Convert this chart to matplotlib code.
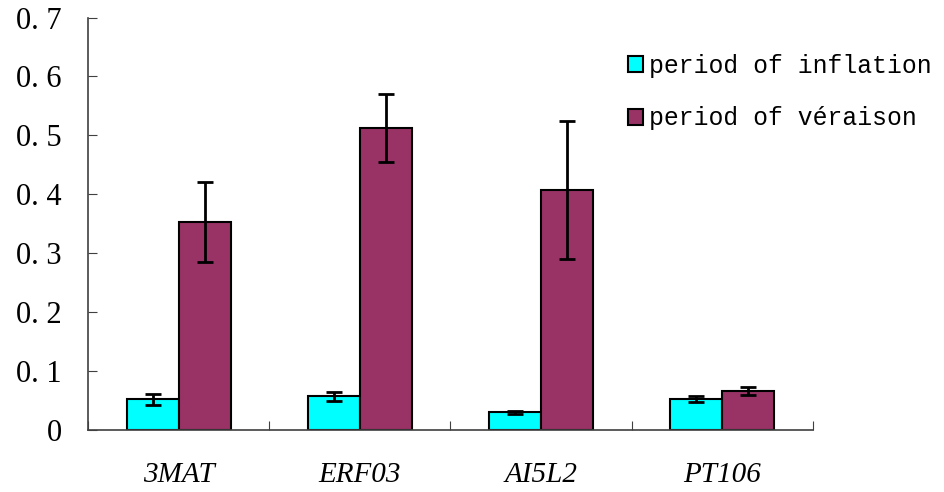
import matplotlib.pyplot as plt
import numpy as np

genes = ['3MAT', 'ERF03', 'AI5L2', 'PT106']
inflation = [0.052, 0.057, 0.030, 0.052]
inflation_err = [0.009, 0.007, 0.003, 0.005]
veraison = [0.353, 0.513, 0.407, 0.066]
veraison_err = [0.068, 0.058, 0.117, 0.007]
yticks = [0, 0.1, 0.2, 0.3, 0.4, 0.5, 0.6, 0.7]
ytick_labels = ['0', '0. 1', '0. 2', '0. 3', '0. 4', '0. 5', '0. 6', '0. 7']

fig = plt.figure(figsize=(9.45, 4.92), dpi=100)
ax = fig.add_axes([0.0931, 0.126, 0.7669, 0.8384])

x = np.arange(len(genes)) + 0.5
w = 0.287
err_kw = dict(ecolor='black', elinewidth=2, capsize=6, capthick=2)
ax.bar(x - w / 2, inflation, w, yerr=inflation_err, color='#00FFFF',
       edgecolor='black', linewidth=1.5, label='period of inflation', error_kw=err_kw)
ax.bar(x + w / 2, veraison, w, yerr=veraison_err, color='#993366',
       edgecolor='black', linewidth=1.5, label='period of véraison', error_kw=err_kw)

ax.set_xlim(0, len(genes))
ax.set_ylim(0, 0.7)
ax.set_yticks(yticks)
ax.set_yticklabels(ytick_labels, fontfamily='Liberation Serif', fontsize=22)
ax.set_xticks(np.arange(len(genes) + 1))
ax.set_xticklabels([])
ax.set_xticks(x, minor=True)
ax.set_xticklabels(genes, minor=True, fontfamily='Liberation Serif',
                   fontstyle='italic', fontsize=21)
ax.tick_params(axis='x', which='major', direction='in', length=6.5, color='#404040')
ax.tick_params(axis='x', which='minor', length=0, pad=23)
ax.tick_params(axis='y', direction='in', length=6.7, pad=19, color='#404040')

for s in ['top', 'right']:
    ax.spines[s].set_visible(False)
for s in ['left', 'bottom']:
    ax.spines[s].set_color('#404040')
    ax.spines[s].set_linewidth(1.2)

ax.legend(loc='upper left', bbox_to_anchor=(628 / 945, 1 - 54 / 492),
          bbox_transform=fig.transFigure, frameon=False,
          prop={'family': 'Liberation Mono', 'size': 17.8},
          handlelength=0.6, handleheight=0.6, handletextpad=0.25,
          labelspacing=1.15, borderpad=0, borderaxespad=0)

fig.savefig('out.png', dpi=100)
